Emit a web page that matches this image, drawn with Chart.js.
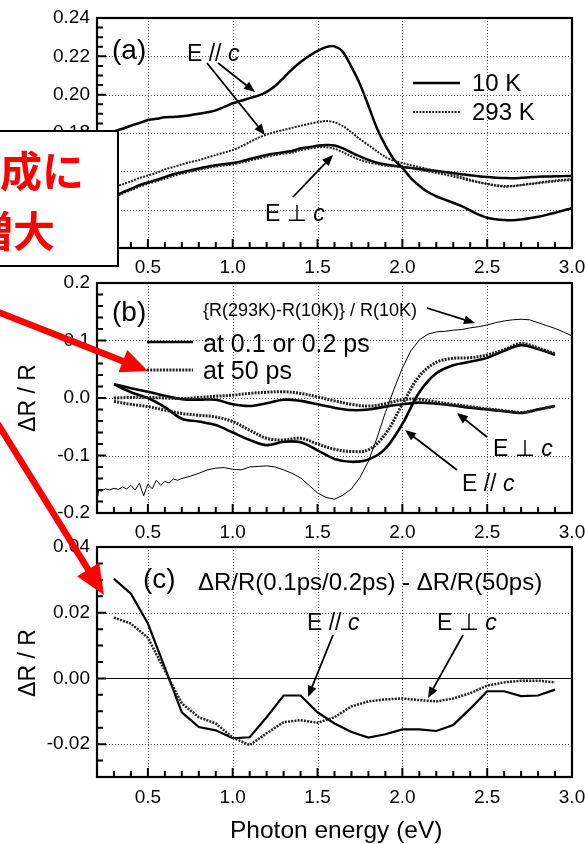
<!DOCTYPE html>
<html><head><meta charset="utf-8">
<script src="https://cdn.jsdelivr.net/npm/chart.js@4.4.1/dist/chart.umd.min.js"></script>
<style>
html,body{margin:0;padding:0;background:#fff;}
body{width:585px;height:844px;position:relative;overflow:hidden;font-family:"Liberation Sans",Arial,Helvetica,sans-serif;color:#000;}
canvas{position:absolute;left:0;}
.t{position:absolute;white-space:nowrap;line-height:1;transform:translateY(-50%);}
.rot{position:absolute;white-space:nowrap;line-height:1;transform:translate(-50%,-50%) rotate(-90deg);}
svg{position:absolute;left:0;top:0;}
#box{position:absolute;left:-10px;top:130px;width:129px;height:137px;border:2px solid #000;box-sizing:border-box;background:#fff;overflow:hidden;}
#box span{position:absolute;line-height:1;white-space:nowrap;color:#ff0000;font-family:"Noto Sans CJK JP","Noto Sans CJK SC",sans-serif;font-weight:bold;font-size:42px;}
</style></head><body>
<canvas id="ca" width="585" height="280" style="top:0px"></canvas>
<canvas id="cb" width="585" height="280" style="top:270px"></canvas>
<canvas id="cc" width="585" height="314" style="top:530px"></canvas>
<svg id="ann" width="585" height="844"></svg>
<div id="labels"></div>
<div id="box"><span style="right:33px;top:16px;">成に</span><span style="right:62px;top:76px;">増大</span></div>
<svg id="red" width="585" height="844"></svg>
<script>
// ---------- tick labels ----------
const xTicks = [0.5, 1.0, 1.5, 2.0, 2.5, 3.0];
const aYTicks = [0.12, 0.14, 0.16, 0.18, 0.20, 0.22, 0.24];
const bYTicks = [-0.2, -0.1, 0.0, 0.1, 0.2];
const cYTicks = [-0.02, 0.00, 0.02, 0.04];

// ---------- panel (a): reflectivity ----------
const aEnergy = [0.20,0.25,0.30,0.35,0.40,0.45,0.50,0.55,0.60,0.65,0.70,0.75,0.80,0.85,0.90,0.95,1.00,1.05,1.10,1.15,1.20,1.25,1.30,1.35,1.40,1.45,1.50,1.55,1.60,1.65,1.70,1.75,1.80,1.85,1.90,1.95,2.00,2.05,2.10,2.15,2.20,2.25,2.30,2.35,2.40,2.45,2.50,2.55,2.60,2.65,2.70,2.75,2.80,2.85,2.90,2.95,3.00];
const aPara10K = [0.1780,0.1793,0.1808,0.1822,0.1838,0.1852,0.1868,0.1874,0.1882,0.1884,0.1888,0.1893,0.1900,0.1908,0.1918,0.1936,0.1955,0.1968,0.1982,0.1995,0.2015,0.2045,0.2088,0.2132,0.2170,0.2202,0.2228,0.2248,0.2252,0.2222,0.2145,0.2055,0.1942,0.1825,0.1735,0.1662,0.1618,0.1565,0.1525,0.1492,0.1470,0.1452,0.1436,0.1418,0.1396,0.1374,0.1358,0.1350,0.1346,0.1345,0.1349,0.1355,0.1363,0.1373,0.1384,0.1396,0.1407];
const aPara293K = [0.1505,0.1512,0.1520,0.1532,0.1548,0.1565,0.1578,0.1592,0.1610,0.1623,0.1636,0.1648,0.1658,0.1672,0.1685,0.1698,0.1711,0.1730,0.1752,0.1775,0.1792,0.1805,0.1816,0.1827,0.1838,0.1848,0.1856,0.1863,0.1856,0.1836,0.1803,0.1768,0.1737,0.1705,0.1675,0.1655,0.1643,0.1632,0.1622,0.1612,0.1603,0.1594,0.1584,0.1570,0.1556,0.1544,0.1534,0.1525,0.1520,0.1522,0.1528,0.1533,0.1538,0.1543,0.1548,0.1552,0.1555];
const aPerp10K = [0.1440,0.1455,0.1470,0.1490,0.1508,0.1528,0.1542,0.1555,0.1570,0.1585,0.1595,0.1605,0.1615,0.1624,0.1632,0.1638,0.1643,0.1652,0.1664,0.1675,0.1685,0.1693,0.1700,0.1706,0.1720,0.1726,0.1733,0.1737,0.1735,0.1720,0.1698,0.1678,0.1660,0.1645,0.1636,0.1629,0.1623,0.1618,0.1612,0.1607,0.1602,0.1597,0.1591,0.1585,0.1579,0.1574,0.1570,0.1567,0.1565,0.1564,0.1566,0.1569,0.1572,0.1573,0.1574,0.1575,0.1576];
const aPerp293K = [0.1440,0.1452,0.1466,0.1484,0.1502,0.1520,0.1535,0.1548,0.1562,0.1576,0.1588,0.1598,0.1608,0.1617,0.1625,0.1631,0.1636,0.1645,0.1656,0.1666,0.1676,0.1685,0.1692,0.1698,0.1710,0.1718,0.1725,0.1726,0.1718,0.1700,0.1678,0.1660,0.1647,0.1638,0.1630,0.1626,0.1622,0.1616,0.1608,0.1600,0.1592,0.1583,0.1573,0.1562,0.1551,0.1542,0.1535,0.1528,0.1524,0.1524,0.1529,0.1535,0.1541,0.1547,0.1552,0.1556,0.1559];

// ---------- panel (b): dR/R ----------
const pumpEnergy = [0.3,0.4,0.5,0.6,0.7,0.8,0.9,1.0,1.1,1.2,1.3,1.4,1.5,1.6,1.7,1.8,1.9,2.0,2.1,2.2,2.3,2.4,2.5,2.6,2.7,2.8,2.9];
const bParaFast = [0.024,0.010,0.000,-0.016,-0.036,-0.041,-0.047,-0.060,-0.073,-0.082,-0.076,-0.077,-0.091,-0.106,-0.111,-0.107,-0.088,-0.045,0.010,0.043,0.057,0.063,0.070,0.082,0.092,0.085,0.075];
const bParaSlow = [-0.006,-0.011,-0.015,-0.021,-0.027,-0.030,-0.033,-0.041,-0.056,-0.070,-0.073,-0.070,-0.080,-0.089,-0.093,-0.090,-0.063,-0.011,0.038,0.062,0.069,0.070,0.075,0.084,0.095,0.087,0.077];
const bPerpFast = [0.024,0.017,0.011,0.004,-0.002,-0.003,-0.003,-0.011,-0.014,-0.009,-0.003,-0.005,-0.011,-0.017,-0.021,-0.020,-0.015,-0.011,-0.008,-0.010,-0.013,-0.017,-0.020,-0.023,-0.026,-0.020,-0.014];
const bPerpSlow = [0.000,0.001,0.001,0.000,-0.001,0.001,0.003,0.005,0.008,0.010,0.011,0.008,0.002,-0.005,-0.011,-0.014,-0.010,-0.003,-0.002,-0.007,-0.011,-0.015,-0.019,-0.022,-0.025,-0.020,-0.014];
const thermalEnergy = [0.200,0.210,0.225,0.250,0.275,0.300,0.325,0.350,0.375,0.400,0.425,0.450,0.475,0.500,0.525,0.550,0.575,0.600,0.625,0.650,0.675,0.700,0.75,0.80,0.85,0.90,0.95,1.00,1.05,1.10,1.15,1.20,1.25,1.30,1.35,1.40,1.45,1.50,1.55,1.60,1.65,1.70,1.75,1.80,1.85,1.90,1.95,2.00,2.05,2.10,2.15,2.20,2.25,2.30,2.35,2.40,2.45,2.50,2.55,2.60,2.65,2.70,2.75,2.80,2.85,2.90,2.95,3.00];
const thermal = [-0.178,-0.160,-0.162,-0.158,-0.160,-0.157,-0.159,-0.155,-0.158,-0.152,-0.160,-0.148,-0.170,-0.150,-0.158,-0.143,-0.152,-0.145,-0.148,-0.141,-0.143,-0.140,-0.136,-0.131,-0.125,-0.122,-0.121,-0.124,-0.125,-0.120,-0.119,-0.118,-0.120,-0.125,-0.131,-0.139,-0.152,-0.165,-0.173,-0.176,-0.169,-0.158,-0.138,-0.110,-0.070,-0.025,0.015,0.052,0.082,0.101,0.111,0.115,0.116,0.118,0.119,0.122,0.124,0.127,0.131,0.134,0.136,0.137,0.136,0.131,0.126,0.121,0.115,0.108];

// ---------- panel (c): difference ----------
const cPara = [0.0303,0.0258,0.0167,0.0033,-0.0103,-0.0148,-0.0158,-0.0182,-0.0179,-0.0118,-0.0052,-0.0052,-0.0103,-0.0137,-0.0163,-0.0180,-0.0170,-0.0155,-0.0155,-0.0160,-0.0142,-0.0092,-0.0039,-0.0039,-0.0054,-0.0052,-0.0034];
const cPerp = [0.0185,0.0167,0.0124,0.0024,-0.0076,-0.0118,-0.0137,-0.0180,-0.0203,-0.0167,-0.0133,-0.0127,-0.0135,-0.0118,-0.0085,-0.0070,-0.0064,-0.0061,-0.0066,-0.0070,-0.0061,-0.0045,-0.0022,-0.0012,-0.0007,-0.0007,-0.0012];

const pts = (xs, ys) => xs.map((x, i) => ({x, y: ys[i]}));

Chart.defaults.font.family = '"Liberation Sans", Arial, Helvetica, sans-serif';
Chart.defaults.font.size = 19;
Chart.defaults.color = '#000';

function framePlugin(cfg) {
  return {
    id: 'frame' + cfg.name,
    beforeDatasetsDraw(chart) {
      const {ctx, chartArea: a, scales: {x, y}} = chart;
      ctx.save();
      ctx.strokeStyle = '#555'; ctx.lineWidth = 1; ctx.setLineDash([1, 2]);
      ctx.beginPath();
      xTicks.forEach(v => { if (v > cfg.xMin && v < cfg.xMax) { const p = Math.round(x.getPixelForValue(v)) + 0.5; ctx.moveTo(p, a.top); ctx.lineTo(p, a.bottom); } });
      cfg.yTicks.forEach(v => { if (v > cfg.yMin + 1e-9 && v < cfg.yMax - 1e-9 && !(cfg.zero && Math.abs(v) < 1e-9)) { const p = Math.round(y.getPixelForValue(v)) + 0.5; ctx.moveTo(a.left, p); ctx.lineTo(a.right, p); } });
      ctx.stroke();
      ctx.setLineDash([]);
      if (cfg.zero) {
        const p = Math.round(y.getPixelForValue(0)) + 0.5;
        ctx.strokeStyle = '#000'; ctx.lineWidth = 1.2;
        ctx.beginPath(); ctx.moveTo(a.left, p); ctx.lineTo(a.right, p); ctx.stroke();
      }
      ctx.restore();
    },
    afterDatasetsDraw(chart) {
      const {ctx, chartArea: a, scales: {x, y}} = chart;
      ctx.save();
      ctx.strokeStyle = '#000';
      ctx.lineWidth = 2;
      ctx.beginPath();
      for (let i = 3; i <= 29; i++) {
        const v = i / 10, p = x.getPixelForValue(v), len = (i % 5 === 0) ? 9 : 6;
        ctx.moveTo(p, a.bottom); ctx.lineTo(p, a.bottom - len);
      }
      const n = Math.round((cfg.yMax - cfg.yMin) / cfg.yMinor);
      for (let k = 1; k < n; k++) {
        const v = cfg.yMin + k * cfg.yMinor, p = y.getPixelForValue(v);
        const major = cfg.yTicks.some(t => Math.abs(t - v) < 1e-9);
        ctx.moveTo(a.left, p); ctx.lineTo(a.left + (major ? 9 : 6), p);
      }
      ctx.stroke();
      ctx.lineWidth = 2.2;
      ctx.strokeRect(a.left, a.top, a.right - a.left, a.bottom - a.top);
      ctx.restore();
    }
  };
}

function makePanel(id, cfg, datasets) {
  new Chart(document.getElementById(id), {
    type: 'line',
    data: {datasets},
    options: {
      responsive: false, animation: false, events: [],
      layout: {autoPadding: false, padding: {left: 0, right: 13, top: cfg.top, bottom: 0}},
      plugins: {legend: {display: false}, tooltip: {enabled: false}},
      elements: {point: {radius: 0}},
      scales: {
        x: {
          type: 'linear', min: cfg.xMin, max: cfg.xMax,
          grid: {display: false, drawTicks: false}, border: {display: false},
          afterBuildTicks: s => { s.ticks = xTicks.map(v => ({value: v})); },
          afterFit: s => { s.height = cfg.xH; s.paddingLeft = 0; s.paddingRight = 0; },
          ticks: {autoSkip: false, maxRotation: 0, minRotation: 0, padding: cfg.xPad, callback: v => v.toFixed(1)}
        },
        y: {
          type: 'linear', min: cfg.yMin, max: cfg.yMax,
          grid: {display: false, drawTicks: false}, border: {display: false},
          afterBuildTicks: s => { s.ticks = cfg.yTicks.map(v => ({value: v})); },
          afterFit: s => { s.width = 97; s.paddingTop = 0; s.paddingBottom = 0; },
          ticks: {autoSkip: false, padding: 7, callback: v => v.toFixed(cfg.dec)}
        }
      }
    },
    plugins: [framePlugin(cfg)]
  });
}

const solid = (data, w, t) => ({data, borderColor: '#000', borderWidth: w, tension: t, fill: false});
const dotted = (data, w, t) => ({data, borderColor: '#222', borderWidth: w, borderDash: [2, 1.2], tension: t, fill: false});

makePanel('ca', {name: 'a', top: 18, xH: 32, xPad: 8, xMin: 0.2, xMax: 3.0, yMin: 0.12, yMax: 0.24, yTicks: aYTicks, yMinor: 0.005, dec: 2}, [
  dotted(pts(aEnergy, aPara293K), 2, 0.3),
  dotted(pts(aEnergy, aPerp293K), 2, 0.3),
  solid(pts(aEnergy, aPara10K), 2.5, 0.3),
  solid(pts(aEnergy, aPerp10K), 2.5, 0.3)
]);

makePanel('cb', {name: 'b', top: 13, xH: 37, xPad: 8, xMin: 0.2, xMax: 3.0, yMin: -0.2, yMax: 0.2, yTicks: bYTicks, yMinor: 0.02, dec: 1}, [
  solid(pts(thermalEnergy, thermal), 1, 0),
  dotted(pts(pumpEnergy, bParaSlow), 3, 0.35),
  dotted(pts(pumpEnergy, bPerpSlow), 3, 0.35),
  solid(pts(pumpEnergy, bParaFast), 2.6, 0.35),
  solid(pts(pumpEnergy, bPerpFast), 2.6, 0.35)
]);

makePanel('cc', {name: 'c', top: 17, xH: 67, xPad: 9, xMin: 0.2, xMax: 3.0, yMin: -0.03, yMax: 0.04, yTicks: cYTicks, yMinor: 0.005, dec: 2, zero: true}, [
  dotted(pts(pumpEnergy, cPerp), 2.5, 0),
  solid(pts(pumpEnergy, cPara), 2.2, 0)
]);

// ---------- annotations ----------
const NS = 'http://www.w3.org/2000/svg';
function el(svg, tag, attrs) { const e = document.createElementNS(NS, tag); for (const k in attrs) e.setAttribute(k, attrs[k]); svg.appendChild(e); return e; }
function arrow(svg, x1, y1, x2, y2, color, w, hl, hw) {
  const dx = x2 - x1, dy = y2 - y1, L = Math.hypot(dx, dy), ux = dx / L, uy = dy / L;
  const bx = x2 - ux * hl, by = y2 - uy * hl;
  el(svg, 'line', {x1, y1, x2: bx + ux * 2, y2: by + uy * 2, stroke: color, 'stroke-width': w});
  el(svg, 'polygon', {points: `${x2},${y2} ${bx - uy * hw},${by + ux * hw} ${bx + uy * hw},${by - ux * hw}`, fill: color});
}
const ann = document.getElementById('ann');
[[218,63,255,92],[207,63,265,135],[293,197,333,155],[427,308,475,323],[487,437,457,413],[457,470,405,430],[333,635,308,697],[463,635,428,698]]
  .forEach(a => arrow(ann, a[0], a[1], a[2], a[3], '#000', 1.8, 11, 4.5));
el(ann, 'line', {x1: 413, y1: 83, x2: 460, y2: 83, stroke: '#000', 'stroke-width': 2.5});
el(ann, 'line', {x1: 413, y1: 112, x2: 460, y2: 112, stroke: '#222', 'stroke-width': 2, 'stroke-dasharray': '2 1.2'});
el(ann, 'line', {x1: 147, y1: 342, x2: 193, y2: 342, stroke: '#000', 'stroke-width': 2.6});
el(ann, 'line', {x1: 147, y1: 370, x2: 193, y2: 370, stroke: '#222', 'stroke-width': 3, 'stroke-dasharray': '2 1.2'});

const labels = [
  ['(a)', 112, 50, 28], ['(b)', 112, 312, 28], ['(c)', 143, 579, 28],
  ['E // <i>c</i>', 187, 53, 23], ['E ⊥ <i>c</i>', 265, 213, 23],
  ['10 K', 472, 83, 24], ['293 K', 472, 112, 24],
  ['{R(293K)-R(10K)} / R(10K)', 203, 310, 18],
  ['at 0.1 or 0.2 ps', 203, 343, 25], ['at 50 ps', 203, 370, 25],
  ['E ⊥ <i>c</i>', 493, 448, 23], ['E // <i>c</i>', 462, 483, 23],
  ['ΔR/R(0.1ps/0.2ps) - ΔR/R(50ps)', 198, 582, 24],
  ['E // <i>c</i>', 307, 622, 23], ['E ⊥ <i>c</i>', 437, 622, 23]
];
const lab = document.getElementById('labels');
labels.forEach(([h, x, y, s]) => { const d = document.createElement('div'); d.className = 't'; d.innerHTML = h; d.style.left = x + 'px'; d.style.top = y + 'px'; d.style.fontSize = s + 'px'; lab.appendChild(d); });
[['ΔR / R', 27, 398], ['ΔR / R', 27, 663]].forEach(([h, x, y]) => { const d = document.createElement('div'); d.className = 'rot'; d.textContent = h; d.style.left = x + 'px'; d.style.top = y + 'px'; d.style.fontSize = '23px'; lab.appendChild(d); });
const xt = document.createElement('div'); xt.className = 't'; xt.textContent = 'Photon energy (eV)'; xt.style.left = '230px'; xt.style.top = '830px'; xt.style.fontSize = '24.5px'; lab.appendChild(xt);

const red = document.getElementById('red');
arrow(red, -20, 305, 148, 371, '#ff0000', 6.5, 27, 12);
arrow(red, -12, 408, 104, 595, '#ff0000', 6.5, 30, 13);
</script>
</body></html>
